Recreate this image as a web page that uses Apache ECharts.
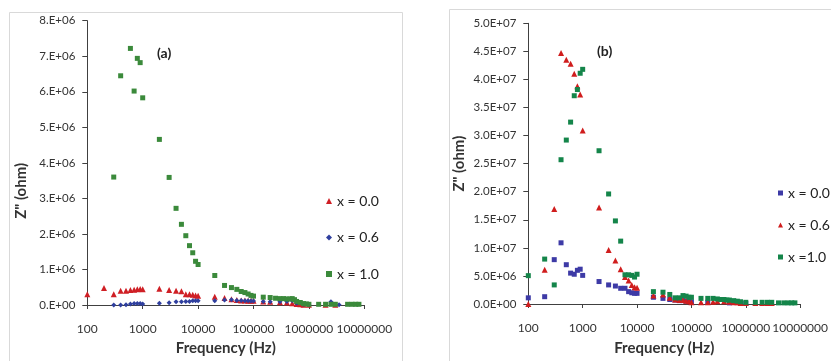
<!DOCTYPE html>
<html><head><meta charset="utf-8">
<script src="https://cdn.jsdelivr.net/npm/echarts@6/dist/echarts.min.js"></script>
<style>html,body{margin:0;padding:0;background:#fff}#c{width:831px;height:361px}</style>
</head><body><div id="c"></div>
<script>
// ---- Panel (a) data (values in ohm) ----
const aFreqX00 = [100,200,300,400,500,600,700,800,900,1000,2000,3000,4000,5000,6000,7000,8000,9000,10000,20000,30000,40000,50000,60000,70000,80000,90000,100000,150000,200000,300000,400000,500000,600000,700000,800000,1000000,2000000,3000000];
const aValX00 = [0.30,0.48,0.30,0.40,0.40,0.42,0.43,0.44,0.45,0.44,0.46,0.42,0.40,0.39,0.30,0.30,0.29,0.27,0.26,0.23,0.20,0.16,0.14,0.13,0.13,0.12,0.12,0.12,0.10,0.09,0.08,0.07,0.05,0.03,0.02,0.01,0.01,0.01,0.01].map(v=>v*1e6);
const aFreqX06 = [300,400,500,600,700,800,900,1000,2000,3000,4000,5000,6000,7000,8000,9000,10000,20000,30000,40000,50000,60000,70000,80000,90000,100000,150000,200000,300000,400000,500000,600000,800000,1000000,2500000,3500000];
const aValX06 = [0.0,0.0,0.01,0.03,0.04,0.04,0.04,0.03,0.05,0.06,0.09,0.09,0.10,0.10,0.12,0.12,0.12,0.12,0.14,0.15,0.13,0.13,0.12,0.12,0.11,0.11,0.10,0.09,0.09,0.10,0.12,0.05,0.02,0.01,0.09,0.01].map(v=>v*1e6);
const aFreqX10 = [300,400,600,700,800,900,1000,2000,3000,4000,5000,6000,7000,8000,9000,10000,20000,30000,40000,50000,60000,70000,80000,90000,100000,150000,200000,250000,300000,350000,400000,450000,500000,550000,600000,700000,800000,900000,1000000,1500000,2000000,2500000,3000000,5000000,6000000,7000000,8000000];
const aValX10 = [3.60,6.45,7.22,6.02,6.94,6.82,5.83,4.66,3.59,2.72,2.27,1.95,1.67,1.47,1.23,1.14,0.83,0.55,0.49,0.44,0.38,0.35,0.31,0.27,0.25,0.22,0.21,0.19,0.18,0.18,0.17,0.17,0.18,0.15,0.10,0.07,0.04,0.03,0.02,0.02,0.02,0.02,0.02,0.02,0.02,0.02,0.02].map(v=>v*1e6);

// ---- Panel (b) data (values in ohm) ----
const bFreqX00 = [100,200,300,400,500,600,700,800,900,1000,2000,3000,4000,5000,6000,7000,8000,9000,10000,20000,30000,40000,50000,60000,70000,80000,90000,100000,200000,500000,1000000];
const bValX00 = [0.11,0.13,0.79,1.09,0.70,0.55,0.53,0.60,0.62,0.51,0.40,0.34,0.32,0.28,0.28,0.22,0.20,0.19,0.19,0.12,0.10,0.08,0.07,0.06,0.06,0.05,0.05,0.04,0.03,0.02,0.01].map(v=>v*1e7);
const bFreqX06 = [100,200,300,400,500,600,700,800,900,1000,2000,3000,4000,5000,6000,7000,8000,9000,10000,20000,30000,40000,50000,60000,70000,80000,90000,100000,150000,200000,250000,300000,400000,500000,600000,700000,800000,1000000,1500000,2000000,2500000,3000000];
const bValX06 = [0.0,0.61,1.69,4.47,4.35,4.28,4.10,3.88,3.73,3.09,1.72,0.96,0.775,0.62,0.48,0.42,0.34,0.30,0.29,0.15,0.17,0.11,0.08,0.07,0.07,0.06,0.05,0.03,0.03,0.03,0.04,0.05,0.05,0.04,0.03,0.03,0.02,0.02,0.02,0.02,0.02,0.02].map(v=>v*1e7);
const bFreqX10 = [100,200,300,400,500,600,700,800,900,1000,2000,3000,4000,5000,6000,7000,8000,9000,10000,20000,30000,40000,50000,60000,70000,80000,90000,100000,150000,200000,250000,300000,350000,400000,450000,500000,600000,700000,800000,1000000,1500000,2000000,2500000,3000000,4000000,5000000,6000000,7000000,8000000];
const bValX10 = [0.505,0.80,0.34,2.57,2.92,3.24,3.71,3.82,4.11,4.18,2.73,1.96,1.48,1.12,0.52,0.52,0.51,0.48,0.53,0.22,0.21,0.17,0.11,0.11,0.15,0.14,0.12,0.12,0.10,0.10,0.10,0.09,0.08,0.08,0.07,0.07,0.06,0.05,0.04,0.03,0.03,0.03,0.03,0.03,0.02,0.02,0.02,0.02,0.02].map(v=>v*1e7);

const xTicks = [100,1000,10000,100000,1000000,10000000];
const legendA = ['x = 0.0','x = 0.6','x = 1.0'];
const legendB = ['x = 0.0','x = 0.6','x =1.0'];

const FONT = 'Lato';
const AX = '#404040';
const RED = '#cf1f25', BLUE_A = '#2f3f9e', GREEN_A = '#3b8a3b';
const BLUE_B = '#3d3aa6', RED_B = '#d01d1d', GREEN_B = '#14854a';

function zip(f, v){ return f.map((x,i)=>[x, v[i]]); }
function fmtA(v){ if(v===0) return '0.E+00'; const e=Math.floor(Math.log10(v)+1e-9); const m=Math.round(v/Math.pow(10,e)); return m+'.E+'+String(e).padStart(2,'0'); }
function fmtB(v){ if(v===0) return '0.0E+00'; const e=Math.floor(Math.log10(v)+1e-9); const m=(v/Math.pow(10,e)).toFixed(1); return m+'E+'+String(e).padStart(2,'0'); }

function xAxis(gi){ return {
  type:'log', logBase:10, min:100, max:1e7, gridIndex:gi,
  name:'Frequency (Hz)', nameLocation:'middle', nameGap:gi?37:36,
  nameTextStyle:{fontFamily:FONT, fontWeight:'bold', fontSize:15, color:'#333'},
  axisLine:{lineStyle:{color:AX, width:1}},
  axisTick:{show:true, length:4, lineStyle:{color:AX}},
  minorTick:{show:false}, splitLine:{show:false},
  axisLabel:{fontFamily:FONT, fontSize:12, color:'#333', margin:18, formatter:v=>String(Math.round(v))}
};}
function yAxis(gi){ return {
  type:'value', min:0, max: gi?5e7:8e6, interval: gi?5e6:1e6, gridIndex:gi,
  name:'Z" (ohm)', nameLocation:'middle', nameGap: gi?62:59,
  nameTextStyle:{fontFamily:FONT, fontWeight:'bold', fontSize:15, color:'#333', padding: gi?[0,0,0,0]:[0,56,0,0]},
  axisLine:{show:true, lineStyle:{color:AX, width:1}},
  axisTick:{show:true, length:5, lineStyle:{color:AX}},
  splitLine:{show:false},
  axisLabel:{fontFamily:FONT, fontSize:11.5, color:'#333', margin:12, formatter: gi?fmtB:fmtA}
};}
function sc(name, gi, data, color, symbol, size){
  return {name, type:'scatter', xAxisIndex:gi, yAxisIndex:gi, data, symbol, symbolSize:size,
    itemStyle:{color, opacity:1}, emphasis:{disabled:true}, animation:false};
}

const chart = echarts.init(document.getElementById('c'), null, {renderer:'canvas'});
chart.setOption({
  animation:false,
  backgroundColor:'#fff',
  grid:[
    {left:87.3, top:20.7, width:277, height:292},
    {left:528.3, top:23.3, width:273.4, height:290.4}
  ],
  xAxis:[xAxis(0), xAxis(1)],
  yAxis:[yAxis(0), yAxis(1)],
  legend:[
    {orient:'vertical', left:321, top:189, itemGap:22.5, itemWidth:6, itemHeight:6, padding:[5,5,5,5],
     data:[{name:'a:'+legendA[0], icon:'triangle'},{name:'a:'+legendA[1], icon:'diamond'},{name:'a:'+legendA[2], icon:'rect'}],
     formatter:n=>n.slice(2), textStyle:{fontFamily:FONT, fontSize:14, color:'#222'}, selectedMode:false},
    {orient:'vertical', left:773, top:181, itemGap:18, itemWidth:5, itemHeight:5, padding:[5,5,5,5],
     data:[{name:'b:'+legendB[0], icon:'rect'},{name:'b:'+legendB[1], icon:'triangle'},{name:'b:'+legendB[2], icon:'rect'}],
     formatter:n=>n.slice(2), textStyle:{fontFamily:FONT, fontSize:14, color:'#222'}, selectedMode:false}
  ],
  series:[
    sc('a:'+legendA[0], 0, zip(aFreqX00,aValX00), RED, 'triangle', 6),
    sc('a:'+legendA[1], 0, zip(aFreqX06,aValX06), BLUE_A, 'diamond', 5),
    sc('a:'+legendA[2], 0, zip(aFreqX10,aValX10), GREEN_A, 'rect', 5),
    sc('b:'+legendB[0], 1, zip(bFreqX00,bValX00), BLUE_B, 'rect', 5),
    sc('b:'+legendB[1], 1, zip(bFreqX06,bValX06), RED_B, 'triangle', 6),
    sc('b:'+legendB[2], 1, zip(bFreqX10,bValX10), GREEN_B, 'rect', 5)
  ],
  graphic:[
    {type:'rect', shape:{x:9.5, y:12.5, width:393, height:360}, style:{fill:'none', stroke:'#d9d9d9', lineWidth:1}, silent:true},
    {type:'rect', shape:{x:449.5, y:9.5, width:400, height:360}, style:{fill:'none', stroke:'#d9d9d9', lineWidth:1}, silent:true},
    {type:'text', left:157, top:46, style:{text:'(a)', fontFamily:FONT, fontWeight:'bold', fontSize:14, fill:'#222'}},
    {type:'text', left:597, top:44, style:{text:'(b)', fontFamily:FONT, fontWeight:'bold', fontSize:14, fill:'#222'}}
  ]
});
</script></body></html>
